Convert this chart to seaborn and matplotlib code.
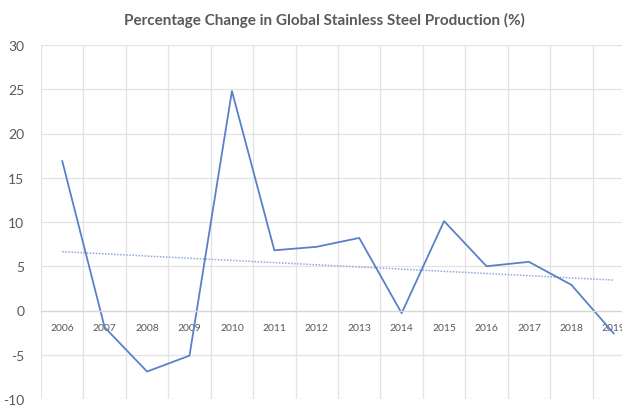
import numpy as np
import pandas as pd
import matplotlib
matplotlib.use("Agg")
import matplotlib.pyplot as plt
import seaborn as sns

years = ["2006", "2007", "2008", "2009", "2010", "2011", "2012",
         "2013", "2014", "2015", "2016", "2017", "2018", "2019"]
pct_change = [16.9, -1.9, -6.9, -5.1, 24.8, 6.8, 7.2,
              8.2, -0.3, 10.1, 5.0, 5.5, 2.9, -2.6]
y_ticks = [-10, -5, 0, 5, 10, 15, 20, 25, 30]
title = "Percentage Change in Global Stainless Steel Production (%)"

sns.set_theme(style="white")
plt.rcParams['font.family'] = ['Lato', 'DejaVu Sans']

df = pd.DataFrame({"pos": np.arange(len(years)), "pct": pct_change})
coef = np.polyfit(df["pos"], df["pct"], 1)
df["trend"] = np.polyval(coef, df["pos"])

fig = plt.figure(figsize=(6.22, 4.06), dpi=100)
ax = fig.add_axes([41/622, 1-400/406, (635-41)/622, (400-46)/406])

grid_c = "#E3E3E3"
text_c = "#595959"
line_c = "#5B80C8"

sns.lineplot(data=df, x="pos", y="trend", ax=ax, color="#8FA9DA",
             linewidth=1.1, linestyle=(0, (1, 1)))
sns.lineplot(data=df, x="pos", y="pct", ax=ax, color=line_c, linewidth=1.3)

ax.set_xlim(-0.5, len(years) - 0.5)
ax.set_ylim(-10, 30)
ax.set_yticks(y_ticks)
ax.set_yticklabels([str(v) for v in y_ticks])
ax.set_xticks(np.arange(len(years)))
ax.set_xticklabels(years)
ax.tick_params(axis='x', which='both', length=0, pad=9,
               labelsize=7.5, labelcolor=text_c)
ax.tick_params(axis='y', length=0, pad=12, labelsize=10, labelcolor=text_c)

ax.grid(False)
for v in y_ticks:
    ax.axhline(v, color=grid_c, linewidth=0.9, zorder=0)
for v in np.arange(-0.5, len(years)):
    ax.axvline(v, color=grid_c, linewidth=0.9, zorder=0)

for s in ["top", "right", "left"]:
    ax.spines[s].set_visible(False)
ax.spines["bottom"].set_position(("data", 0))
ax.spines["bottom"].set_color("#D6D6D6")
ax.spines["bottom"].set_linewidth(0.9)

ax.set_xlabel("")
ax.set_ylabel("")
fig.text(324/622, 1-20/406, title, ha="center", va="center",
         fontsize=11, fontweight="bold", color=text_c)

fig.savefig("out.png", dpi=100)
